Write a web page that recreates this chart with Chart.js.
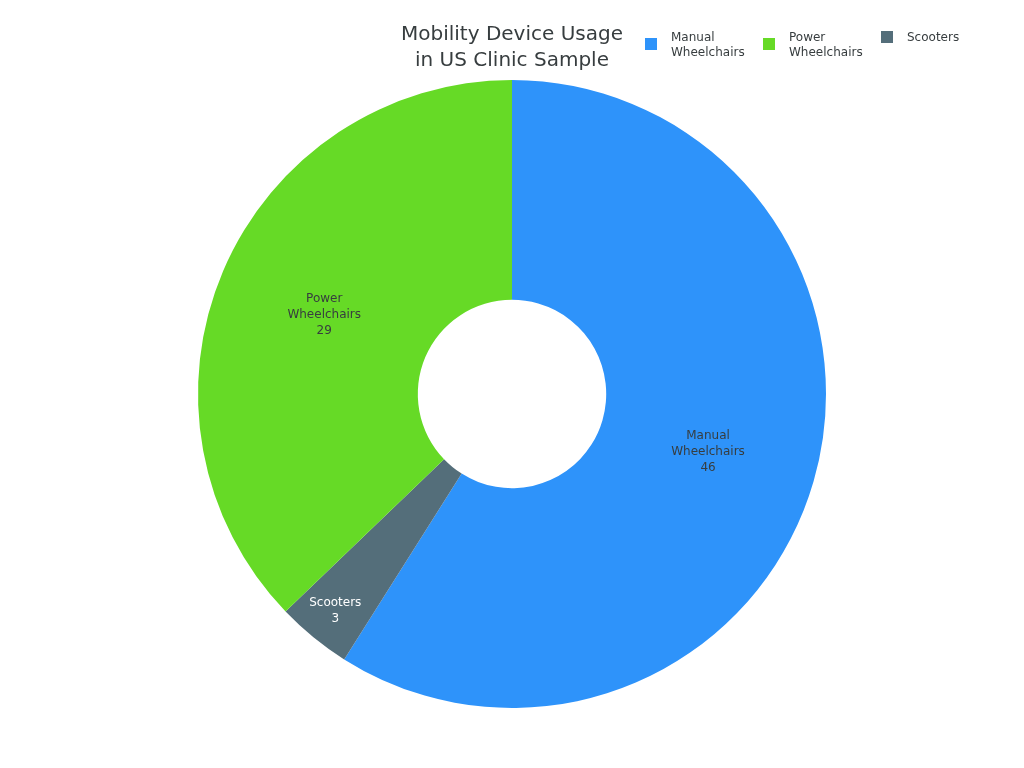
<!DOCTYPE html>
<html>
<head>
<meta charset="utf-8">
<script src="https://cdn.jsdelivr.net/npm/chart.js@4.4.1/dist/chart.umd.min.js"></script>
<style>
  html, body { margin: 0; padding: 0; background: #fff; }
  #wrap { position: relative; width: 1024px; height: 768px; font-family: "DejaVu Sans", sans-serif; }
  #c { position: absolute; left: 0; top: 0; }
  #title { position: absolute; left: 362px; width: 300px; top: 20px; text-align: center; font-size: 20px; line-height: 26px; color: #373d3f; }
  .leg { position: absolute; font-size: 12px; line-height: 15px; color: #373d3f; }
  .leg .sw { position: absolute; width: 12px; height: 12px; }
  .lbl { position: absolute; font-size: 12px; line-height: 16px; text-align: center; transform: translate(-50%, -50%); white-space: nowrap; }
</style>
</head>
<body>
<div id="wrap">
  <canvas id="c" width="1024" height="768"></canvas>
  <div id="title">Mobility Device Usage<br>in US Clinic Sample</div>
  <div id="legend"></div>
  <div id="labels"></div>
</div>
<script>
const titleText = "Mobility Device Usage in US Clinic Sample";
// ring order (clockwise from top)
const categories = ["Manual Wheelchairs", "Scooters", "Power Wheelchairs"];
const labelLines = [["Manual", "Wheelchairs"], ["Scooters"], ["Power", "Wheelchairs"]];
const values = [46, 3, 29];
const colors = ["#2E93FA", "#546E7A", "#66DA26"];
const labelColors = ["#373d3f", "#ffffff", "#373d3f"];
// legend order (indices into the arrays above)
const legendOrder = [0, 2, 1];

// style: radial placement of slice labels (fraction of outer radius; null = ring middle)
const LABEL_RADIUS = [null, 0.89, null];

// legend (HTML)
const legendPos = [[645, 671], [763, 789], [881, 907]];
const legend = document.getElementById('legend');
legendOrder.forEach((idx, k) => {
  const lines = labelLines[idx];
  const sw = document.createElement('div');
  sw.className = 'leg';
  sw.style.left = legendPos[k][0] + 'px';
  sw.style.top = (lines.length > 1 ? 38 : 31) + 'px';
  sw.innerHTML = '<div class="sw" style="background:' + colors[idx] + '"></div>';
  legend.appendChild(sw);
  const t = document.createElement('div');
  t.className = 'leg';
  t.style.left = legendPos[k][1] + 'px';
  t.style.top = '30px';
  t.innerHTML = lines.join('<br>');
  legend.appendChild(t);
});

const labelLayer = document.getElementById('labels');
const htmlLabels = {
  id: 'htmlLabels',
  afterDraw(chart) {
    labelLayer.innerHTML = '';
    const meta = chart.getDatasetMeta(0);
    meta.data.forEach((arc, i) => {
      const pr = arc.getProps(['x', 'y', 'startAngle', 'endAngle', 'innerRadius', 'outerRadius']);
      const mid = (pr.startAngle + pr.endAngle) / 2;
      const r = LABEL_RADIUS[i] ? pr.outerRadius * LABEL_RADIUS[i] : (pr.innerRadius + pr.outerRadius) / 2;
      const px = pr.x + Math.cos(mid) * r;
      const py = pr.y + Math.sin(mid) * r;
      const d = document.createElement('div');
      d.className = 'lbl';
      d.style.left = px + 'px';
      d.style.top = py + 'px';
      d.style.color = labelColors[i];
      d.innerHTML = labelLines[i].join('<br>') + '<br>' + values[i];
      labelLayer.appendChild(d);
    });
  }
};

new Chart(document.getElementById('c'), {
  type: 'doughnut',
  data: {
    labels: categories,
    datasets: [{
      data: values,
      backgroundColor: colors,
      borderWidth: 0
    }]
  },
  options: {
    responsive: false,
    animation: false,
    cutout: '30%',
    layout: { padding: { top: 80, bottom: 60, left: 0, right: 0 } },
    plugins: {
      legend: { display: false },
      title: { display: false },
      tooltip: { enabled: false }
    }
  },
  plugins: [htmlLabels]
});
</script>
</body>
</html>
